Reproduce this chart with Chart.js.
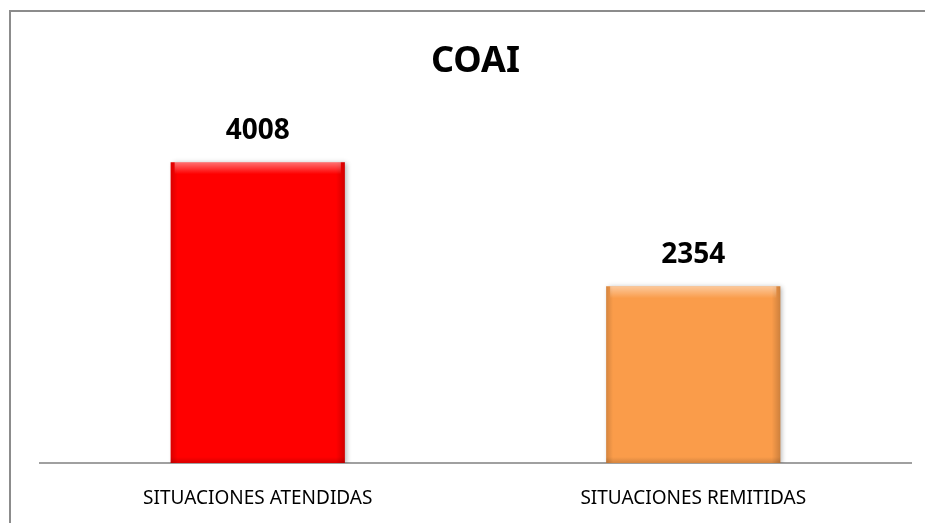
<!DOCTYPE html>
<html>
<head>
<meta charset="utf-8">
<script src="https://cdn.jsdelivr.net/npm/chart.js@4.4.0/dist/chart.umd.min.js"></script>
<style>
  html, body { margin: 0; padding: 0; background: #fff; }
  #wrap { width: 925px; height: 523px; position: relative; }
</style>
</head>
<body>
<div id="wrap"><canvas id="coai"></canvas></div>
<script>
// datos del grafico
const categorias = ["SITUACIONES ATENDIDAS", "SITUACIONES REMITIDAS"];
const valores = [4008, 2354];
const colores = ["#FF0000", "#FA9C4A"];
const titulo = "COAI";
const ejeMax = 4500;

// marco gris (izquierda y arriba) como en la imagen original
const marco = {
    id: "marco",
    beforeDraw(chart) {
        const c = chart.ctx;
        c.save();
        c.strokeStyle = "#8c8c8c";
        c.lineWidth = 2;
        c.beginPath();
        c.moveTo(10, chart.height);
        c.lineTo(10, 11);
        c.lineTo(chart.width, 11);
        c.stroke();
        c.restore();
    }
};

// sombra y relieve de las barras + etiquetas de valor
const relieve = {
    id: "relieve",
    beforeDatasetsDraw(chart) {
        const c = chart.ctx;
        c.save();
        c.shadowColor = "rgba(0,0,0,0.3)";
        c.shadowBlur = 5;
        c.shadowOffsetX = 2;
        c.shadowOffsetY = 1;
    },
    afterDatasetsDraw(chart) {
        const c = chart.ctx;
        c.restore();
        const meta = chart.getDatasetMeta(0);
        meta.data.forEach((bar, i) => {
            const x0 = bar.x - bar.width / 2;
            const x1 = bar.x + bar.width / 2;
            const top = bar.y;
            const h = bar.base - bar.y;
            c.save();
            // bordes laterales mas oscuros
            let g = c.createLinearGradient(x0, 0, x1, 0);
            g.addColorStop(0, "rgba(0,0,0,0.15)");
            g.addColorStop(0.04, "rgba(0,0,0,0)");
            g.addColorStop(0.95, "rgba(0,0,0,0)");
            g.addColorStop(1, "rgba(0,0,0,0.18)");
            c.fillStyle = g;
            c.fillRect(x0, top, bar.width, h);
            // brillo arriba
            g = c.createLinearGradient(0, top, 0, top + 12);
            g.addColorStop(0, "rgba(255,255,255,0.45)");
            g.addColorStop(1, "rgba(255,255,255,0)");
            c.fillStyle = g;
            c.fillRect(x0 + 4, top, bar.width - 8, 12);
            // sombra abajo
            g = c.createLinearGradient(0, bar.base - 6, 0, bar.base);
            g.addColorStop(0, "rgba(0,0,0,0)");
            g.addColorStop(1, "rgba(0,0,0,0.15)");
            c.fillStyle = g;
            c.fillRect(x0, bar.base - 6, bar.width, 6);
            c.restore();

            // valor encima de la barra
            c.save();
            c.font = "bold 28px 'Noto Sans'";
            c.fillStyle = "#000";
            c.textAlign = "center";
            c.textBaseline = "middle";
            c.fillText(String(valores[i]), bar.x, bar.y - 31);
            c.restore();
        });
    }
};

const chart = new Chart(document.getElementById("coai"), {
    type: "bar",
    data: {
        labels: categorias,
        datasets: [{
            data: valores,
            backgroundColor: colores,
            borderWidth: 0,
            barPercentage: 0.4,
            categoryPercentage: 1
        }]
    },
    options: {
        responsive: true,
        maintainAspectRatio: false,
        animation: false,
        layout: {
            padding: { left: 40, right: 14, top: 0, bottom: 13 }
        },
        plugins: {
            legend: { display: false },
            tooltip: { enabled: false },
            title: {
                display: true,
                text: titulo,
                color: "#000",
                font: { family: "'Noto Sans'", size: 36, weight: "bold", lineHeight: 1.2 },
                padding: { top: 40, bottom: 42 }
            }
        },
        scales: {
            x: {
                grid: { display: false, drawTicks: false },
                border: { display: true, color: "#a0a0a0", width: 2 },
                afterFit(scale) { scale.height = 47; },
                ticks: {
                    color: "#000",
                    padding: 24,
                    maxRotation: 0,
                    font: { family: "'Noto Sans'", size: 19, lineHeight: 1.2 }
                }
            },
            y: {
                display: false,
                min: 0,
                max: ejeMax
            }
        }
    },
    plugins: [marco, relieve]
});
</script>
</body>
</html>
